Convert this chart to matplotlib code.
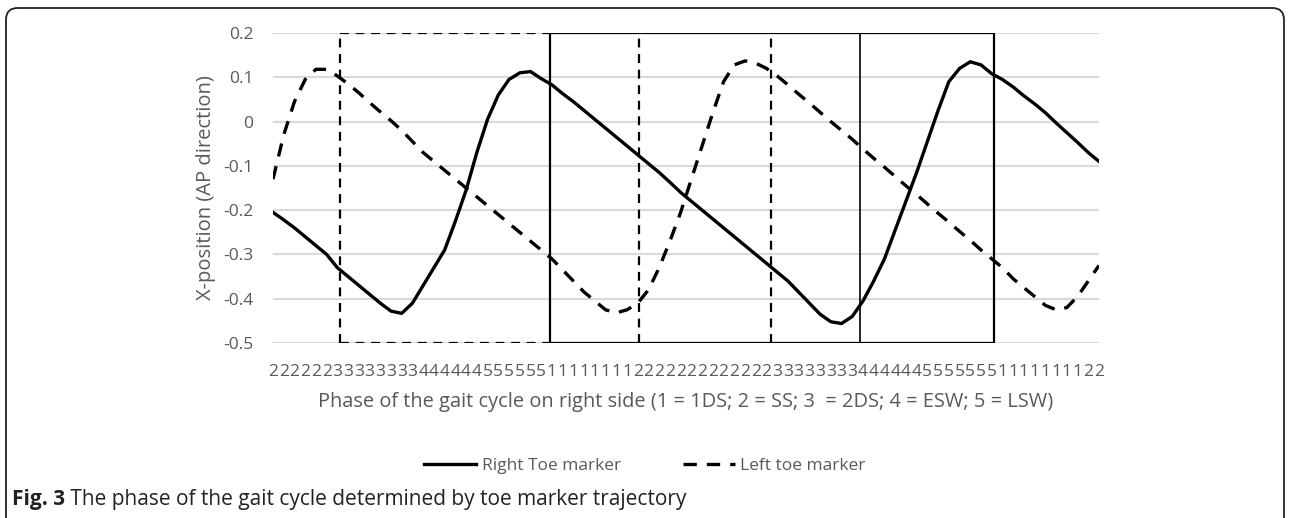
import matplotlib
matplotlib.use("Agg")
import matplotlib.pyplot as plt
from matplotlib.patches import FancyBboxPatch
import numpy as np

plt.rcParams['font.family'] = ['Open Sans', 'DejaVu Sans']

# phase code for every sample (1 = 1DS; 2 = SS; 3 = 2DS; 4 = ESW; 5 = LSW)
phase = ([2] * 6 + [3] * 8 + [4] * 6 + [5] * 6 + [1] * 8 + [2] * 13 +
         [3] * 8 + [4] * 6 + [5] * 7 + [1] * 8 + [2] * 2)

right_toe = [-0.205, -0.222, -0.24, -0.26, -0.28, -0.30, -0.33, -0.35, -0.37, -0.39,
             -0.41, -0.428, -0.433, -0.41, -0.37, -0.33, -0.29, -0.225, -0.155, -0.07,
             0.005, 0.06, 0.095, 0.11, 0.113, 0.097, 0.083, 0.063, 0.045, 0.025,
             0.005, -0.015, -0.035, -0.055, -0.075, -0.095, -0.115, -0.137, -0.16, -0.18,
             -0.2, -0.22, -0.24, -0.26, -0.28, -0.30, -0.32, -0.34, -0.36, -0.385,
             -0.41, -0.435, -0.452, -0.456, -0.44, -0.405, -0.36, -0.31, -0.245, -0.18,
             -0.115, -0.045, 0.025, 0.09, 0.12, 0.135, 0.128, 0.108, 0.095, 0.078,
             0.058, 0.04, 0.02, -0.003, -0.025, -0.047, -0.07, -0.09]

left_toe = [-0.13, -0.03, 0.045, 0.095, 0.118, 0.118, 0.103, 0.085, 0.065, 0.043,
            0.022, 0.002, -0.02, -0.045, -0.07, -0.09, -0.11, -0.13, -0.15, -0.17,
            -0.19, -0.21, -0.23, -0.25, -0.27, -0.29, -0.31, -0.335, -0.36, -0.385,
            -0.405, -0.425, -0.432, -0.425, -0.41, -0.38, -0.33, -0.27, -0.205, -0.13,
            -0.055, 0.02, 0.09, 0.128, 0.137, 0.132, 0.12, 0.103, 0.083, 0.062,
            0.042, 0.021, 0.0, -0.02, -0.04, -0.062, -0.083, -0.103, -0.124, -0.145,
            -0.165, -0.186, -0.207, -0.227, -0.248, -0.268, -0.29, -0.31, -0.33, -0.355,
            -0.375, -0.395, -0.415, -0.425, -0.42, -0.395, -0.36, -0.325]

# hand-drawn phase boxes (sample index positions)
dashed_box = (6.25, 25.8)
solid_box = (25.8, 67.2)
dashed_marks = [34.1, 46.4]
solid_marks = [54.7]

fig = plt.figure(figsize=(12.9, 5.18), dpi=100)
ax = fig.add_axes([273 / 1290, 1 - 343 / 518, 826 / 1290, 310 / 518])

x = np.arange(len(phase))
ax.plot(x, right_toe, color='black', lw=2.4, label='Right Toe marker', zorder=3)
ax.plot(x, left_toe, color='black', lw=2.4, ls=(0, (4, 3)), label='Left toe marker', zorder=3)

ytop, ybot = 0.2, -0.5
# dashed box
ax.plot([dashed_box[0], dashed_box[1]], [ytop, ytop], color='black', lw=1.6, ls=(0, (4, 3)))
ax.plot([dashed_box[0], dashed_box[1]], [ybot, ybot], color='black', lw=1.6, ls=(0, (4, 3)))
ax.plot([dashed_box[0], dashed_box[0]], [ybot, ytop], color='black', lw=1.6, ls=(0, (4, 3)))
# solid box
ax.plot([solid_box[0], solid_box[1], solid_box[1], solid_box[0], solid_box[0]],
        [ytop, ytop, ybot, ybot, ytop], color='black', lw=1.6)
for xm in dashed_marks:
    ax.plot([xm, xm], [ybot, ytop], color='black', lw=1.6, ls=(0, (4, 3)))
for xm in solid_marks:
    ax.plot([xm, xm], [ybot, ytop], color='black', lw=1.2)

ax.set_xlim(0, len(phase) - 1)
ax.set_ylim(-0.5, 0.2)
ax.set_yticks(np.round(np.arange(-0.5, 0.21, 0.1), 1))
ax.set_yticklabels(['-0.5', '-0.4', '-0.3', '-0.2', '-0.1', '0', '0.1', '0.2'])
ax.set_xticks(x)
ax.set_xticklabels([str(p) for p in phase])
ax.grid(axis='y', color='#d9d9d9', lw=1.5)
ax.set_axisbelow(True)
for s in ax.spines.values():
    s.set_visible(False)
ax.tick_params(axis='both', length=0, colors='#595959', labelsize=12.5)
ax.tick_params(axis='y', pad=14)
ax.tick_params(axis='x', pad=15)
ax.set_ylabel('X-position (AP direction)', fontsize=14.5, color='#595959', labelpad=5)
ax.set_xlabel('Phase of the gait cycle on right side (1 = 1DS; 2 = SS; 3  = 2DS; 4 = ESW; 5 = LSW)',
              fontsize=14.4, color='#595959', labelpad=9)

fig.legend(loc='center', bbox_to_anchor=(0.5, 1 - 466 / 518), ncol=2, frameon=False,
           fontsize=12.5, handlelength=3.0, columnspacing=3.6, handletextpad=0.3,
           labelcolor='#595959')

# outer rounded frame
frame = FancyBboxPatch((6 / 1290, -0.05), 1278 / 1290, 1 - 8 / 518 + 0.05,
                       boxstyle='round,pad=0,rounding_size=0.009', transform=fig.transFigure,
                       fill=False, ec='#222222', lw=1.3, mutation_aspect=1290 / 518)
fig.patches.append(frame)

t1 = fig.text(12 / 1290, 1 - 500 / 518, 'Fig. 3', fontsize=15, fontweight='bold',
              va='center', ha='left', color='#222222')
ax.annotate(' The phase of the gait cycle determined by toe marker trajectory', xy=(1, 0.5),
            xycoords=t1, va='center', ha='left', fontsize=15, color='#222222',
            annotation_clip=False)

fig.savefig('out.png', dpi=100)
